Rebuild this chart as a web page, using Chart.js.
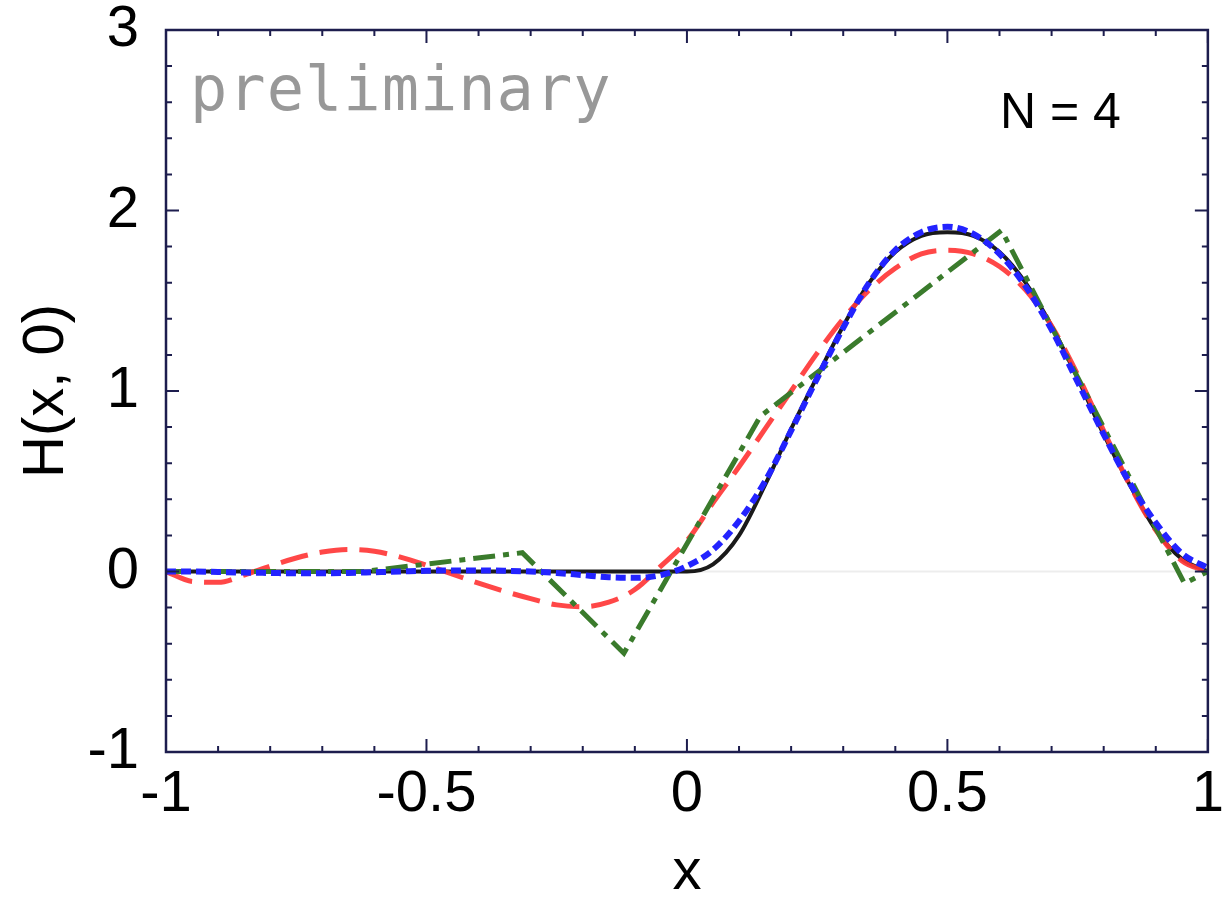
<!DOCTYPE html>
<html>
<head>
<meta charset="utf-8">
<script src="https://cdn.jsdelivr.net/npm/chart.js@4.4.0/dist/chart.umd.min.js"></script>
<style>
  html, body { margin: 0; padding: 0; background: #fff; }
</style>
</head>
<body>
<canvas id="hChart" width="1230" height="908"></canvas>
<script>
// sample points along x for the smooth curves
const xGrid = [-1, -0.95, -0.9, -0.85, -0.8, -0.75, -0.7, -0.65, -0.6, -0.55, -0.5,
    -0.45, -0.4, -0.35, -0.3, -0.25, -0.2, -0.15, -0.1, -0.05, 0,
    0.05, 0.1, 0.15, 0.2, 0.25, 0.3, 0.35, 0.4, 0.45, 0.5,
    0.55, 0.6, 0.65, 0.7, 0.75, 0.8, 0.85, 0.9, 0.95, 1];

// exact H(x, 0)
const exactH = [0, 0, 0, 0, 0, 0, 0, 0, 0, 0, 0,
    0, 0, 0, 0, 0, 0, 0, 0, 0, 0,
    0.04, 0.2, 0.48, 0.79, 1.08, 1.36, 1.6, 1.77, 1.86, 1.88,
    1.86, 1.77, 1.6, 1.36, 1.07, 0.76, 0.48, 0.23, 0.07, 0];

// red long-dash approximation
const redH = [0, -0.055, -0.06, -0.02, 0.03, 0.075, 0.108, 0.122, 0.112, 0.08, 0.035,
    -0.015, -0.065, -0.11, -0.15, -0.185, -0.195, -0.17, -0.1, 0.03, 0.17,
    0.38, 0.58, 0.79, 1.0, 1.21, 1.4, 1.56, 1.68, 1.76, 1.78,
    1.76, 1.69, 1.56, 1.36, 1.09, 0.78, 0.48, 0.23, 0.06, 0];

// blue dotted approximation
const blueH = [0, 0, -0.003, -0.006, -0.008, -0.01, -0.01, -0.008, -0.004, 0, 0.004,
    0.006, 0.006, 0.004, 0, -0.008, -0.02, -0.032, -0.035, -0.02, 0.03,
    0.12, 0.28, 0.5, 0.78, 1.07, 1.35, 1.6, 1.78, 1.88, 1.91,
    1.87, 1.76, 1.58, 1.34, 1.05, 0.76, 0.49, 0.27, 0.1, 0.02];

// green dash-dot: piecewise linear through its nodes
const greenX = [-1, -0.62, -0.316, -0.121, 0.141, 0.604, 0.955, 1];
const greenH = [0, 0, 0.104, -0.453, 0.86, 1.89, -0.066, 0];

const xTicks = [-1, -0.5, 0, 0.5, 1];
const yTicks = [-1, 0, 1, 2, 3];

const toPoints = (xs, ys) => xs.map((x, i) => ({ x: x, y: ys[i] }));

const FONT = '"Liberation Sans", Arial, Helvetica, sans-serif';
const AXIS = '#1d1d4e';

// box, inward ticks, zero line and the two text labels
const framePlugin = {
    id: 'framePlugin',
    beforeDatasetsDraw(chart) {
        const { ctx, chartArea: a, scales: { y } } = chart;
        const y0 = y.getPixelForValue(0);
        ctx.save();
        ctx.strokeStyle = '#ededed';
        ctx.lineWidth = 2;
        ctx.beginPath();
        ctx.moveTo(a.left, y0);
        ctx.lineTo(a.right, y0);
        ctx.stroke();
        ctx.restore();
    },
    afterDraw(chart) {
        const { ctx, chartArea: a, scales: { x, y } } = chart;
        ctx.save();
        ctx.strokeStyle = AXIS;
        ctx.lineWidth = 2;
        ctx.beginPath();
        // x ticks every 0.1, long ones at the labelled values
        for (let i = -10; i <= 10; i++) {
            const px = x.getPixelForValue(i / 10);
            const len = i % 5 === 0 ? 13 : 6;
            ctx.moveTo(px, a.bottom); ctx.lineTo(px, a.bottom - len);
            ctx.moveTo(px, a.top); ctx.lineTo(px, a.top + len);
        }
        // y ticks every 0.2
        for (let j = -5; j <= 15; j++) {
            const py = y.getPixelForValue(j / 5);
            const len = j % 5 === 0 ? 13 : 6;
            ctx.moveTo(a.left, py); ctx.lineTo(a.left + len, py);
            ctx.moveTo(a.right, py); ctx.lineTo(a.right - len, py);
        }
        ctx.stroke();
        ctx.lineWidth = 2.5;
        ctx.strokeRect(a.left, a.top, a.right - a.left, a.bottom - a.top);

        ctx.fillStyle = '#989898';
        ctx.font = '62px "DejaVu Sans Mono", monospace';
        ctx.letterSpacing = '1px';
        ctx.textBaseline = 'alphabetic';
        ctx.textAlign = 'left';
        ctx.fillText('preliminary', a.left + 24, a.top + 80);

        ctx.letterSpacing = '0px';
        ctx.fillStyle = '#000';
        ctx.font = '50px ' + FONT;
        ctx.fillText('N = 4', a.left + 834, a.top + 98);
        ctx.restore();
    }
};

new Chart(document.getElementById('hChart'), {
    type: 'line',
    data: {
        datasets: [
            {
                label: 'exact',
                data: toPoints(xGrid, exactH),
                borderColor: '#1a1a1a',
                borderWidth: 4,
                cubicInterpolationMode: 'monotone',
                order: 4,
            },
            {
                label: 'red',
                data: toPoints(xGrid, redH),
                borderColor: 'rgba(255, 55, 55, 0.92)',
                borderWidth: 5,
                borderDash: [28, 12],
                cubicInterpolationMode: 'monotone',
                order: 3,
            },
            {
                label: 'green',
                data: toPoints(greenX, greenH),
                borderColor: '#3a7b2c',
                borderWidth: 5,
                borderDash: [22, 8, 6, 8],
                tension: 0,
                order: 2,
            },
            {
                label: 'blue',
                data: toPoints(xGrid, blueH),
                borderColor: '#2323ff',
                borderWidth: 6,
                borderDash: [10, 5],
                cubicInterpolationMode: 'monotone',
                order: 1,
            },
        ],
    },
    options: {
        responsive: false,
        animation: false,
        events: [],
        elements: { point: { radius: 0 } },
        layout: { padding: { top: 30, right: 10, left: 0, bottom: 0 } },
        plugins: {
            legend: { display: false },
            tooltip: { enabled: false },
        },
        scales: {
            x: {
                type: 'linear',
                min: -1,
                max: 1,
                grid: { display: false },
                border: { display: false },
                afterBuildTicks: (s) => { s.ticks = xTicks.map(v => ({ value: v })); },
                afterFit: (s) => { s.height = 156; },
                ticks: {
                    color: '#000',
                    padding: 6,
                    maxRotation: 0,
                    font: { family: FONT, size: 58, lineHeight: 1 },
                    callback: (v) => String(v),
                },
                title: {
                    display: true,
                    text: 'x',
                    color: '#000',
                    font: { family: FONT, size: 58 },
                    padding: { top: 0, bottom: 0 },
                },
            },
            y: {
                type: 'linear',
                min: -1,
                max: 3,
                grid: { display: false },
                border: { display: false },
                afterBuildTicks: (s) => { s.ticks = yTicks.map(v => ({ value: v })); },
                afterFit: (s) => {
                    s.width = 166;
                    s.paddingTop = 0;
                    s.paddingBottom = 0;
                },
                ticks: {
                    color: '#000',
                    padding: 19,
                    font: { family: FONT, size: 58, lineHeight: 1 },
                    callback: (v) => String(v),
                },
                title: {
                    display: true,
                    text: 'H(x, 0)',
                    color: '#000',
                    font: { family: FONT, size: 58 },
                    padding: { top: 12, bottom: 0 },
                },
            },
        },
    },
    plugins: [framePlugin],
});
</script>
</body>
</html>
